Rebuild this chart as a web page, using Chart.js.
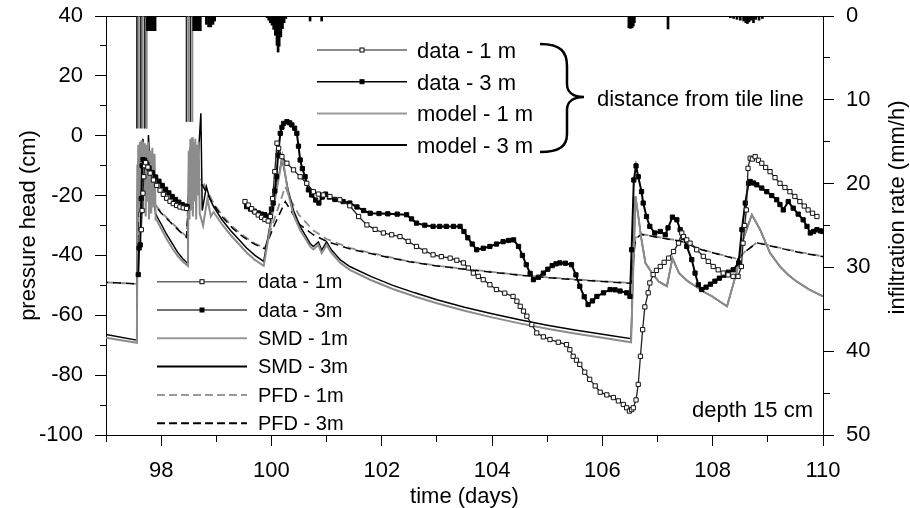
<!DOCTYPE html>
<html><head><meta charset="utf-8">
<script src="https://cdn.jsdelivr.net/npm/chart.js@4"></script>
<style>html,body{margin:0;padding:0;background:#fff}#wrap{width:910px;height:508px}</style>
</head><body><div id="wrap"><canvas id="c" width="910" height="508"></canvas></div>
<script>
// ---------- data ----------
const xTicksLabelled = [98, 100, 102, 104, 106, 108, 110];

const data1T = [97.64,97.655,97.67,97.685,97.70,97.72,97.76,97.80,97.86,97.92,97.98,98.04,98.10,98.16,98.22,98.28,98.34,98.40,98.46,99.0,
99.52,99.58,99.64,99.70,99.76,99.82,99.88,99.94,99.98,100.02,100.06,100.10,100.13,100.19,100.28,100.40,100.52,100.64,100.76,100.85,100.94,101.06,101.24,101.42,
101.58,101.73,101.88,102.03,102.18,102.33,102.48,102.63,102.78,102.93,103.08,103.24,103.36,103.48,103.57,103.66,103.75,103.84,103.96,104.08,104.23,104.38,104.45,104.51,104.57,104.63,104.72,104.81,104.93,105.05,105.20,105.35,105.41,105.47,105.53,105.59,105.68,105.77,105.87,105.96,106.08,106.20,106.29,106.38,106.44,106.49,
106.53,106.56,106.61,106.65,106.69,106.73,106.77,106.83,106.86,106.92,106.98,107.05,107.12,107.20,107.29,107.38,107.44,107.47,107.53,107.59,107.71,107.83,107.92,108.01,108.10,108.19,108.28,108.37,108.46,108.52,108.55,108.58,108.61,108.64,108.68,108.72,108.77,108.83,108.89,108.96,109.04,109.13,109.22,109.31,109.40,109.49,109.58,109.66,109.73,109.81,109.89];
const data1H = [-31.4,-25,-19.2,-13.7,-10,-9,-10.5,-12.5,-14.8,-16.6,-18.2,-19.6,-20.9,-21.9,-22.7,-23.3,-23.8,-24.1,-24.3,null,
-22,-23.2,-24.4,-25.5,-26.5,-27.3,-28,-28.5,-27,-21,-12,-2.5,-4.2,-7,-9.2,-11.4,-13.7,-15.9,-18.7,-19.5,-19.8,-20.3,-21.4,-23.4,
-27,-29.8,-31.3,-32.5,-33.1,-33.7,-35.3,-37,-38.5,-39.8,-40.4,-40.9,-41.6,-42.5,-44.2,-45.9,-47,-48.1,-49.8,-51.4,-52.6,-53.7,-55.3,-57,-58.6,-60.3,-63.1,-65.9,-67.2,-68.1,-69,-69.8,-71.5,-73.7,-75,-76.4,-79,-81.4,-83.6,-85.7,-86.6,-87.5,-88.6,-89.8,-90.9,-92,
-91.5,-90.9,-88.3,-83.1,-73.7,-64.8,-57.2,-52.5,-49.2,-46.4,-45,-43.7,-42.3,-40.9,-38.7,-35.9,-32.5,-33.7,-34.8,-35.9,-38.1,-40.3,-42,-43.7,-44.8,-45.9,-46.5,-47,-47,-43.7,-35.9,-30,-24.8,-10.9,-7.5,-7.8,-7,-8.2,-9.2,-10.6,-12,-14,-15.9,-17.3,-18.7,-20.3,-22,-23.5,-24.8,-25.9,-27];

const data3T = [97.585,97.60,97.62,97.64,97.655,97.67,97.70,97.74,97.78,97.84,97.90,97.96,98.02,98.08,98.14,98.20,98.26,98.32,98.38,98.44,98.47,99.0,
99.55,99.62,99.69,99.76,99.82,99.88,99.94,100.0,100.03,100.06,100.09,100.12,100.16,100.19,100.22,100.28,100.33,100.37,100.42,100.46,100.49,100.52,100.56,100.61,100.67,100.73,100.80,100.86,100.92,100.98,101.05,101.15,101.30,101.42,
101.55,101.67,101.79,101.95,102.11,102.28,102.45,102.54,102.63,102.78,102.93,103.05,103.17,103.30,103.42,103.49,103.56,103.64,103.72,103.84,103.96,104.08,104.20,104.30,104.39,104.48,104.55,104.62,104.69,104.75,104.84,104.93,105.01,105.09,105.16,105.23,105.33,105.44,105.52,105.59,105.67,105.74,105.82,105.90,106.02,106.14,106.23,106.32,106.44,106.50,
106.53,106.57,106.61,106.65,106.71,106.74,106.80,106.86,106.95,107.05,107.14,107.19,107.27,107.35,107.41,107.47,107.53,107.62,107.68,107.74,107.80,107.88,107.96,108.04,108.12,108.20,108.28,108.37,108.47,108.53,108.59,108.65,108.68,108.74,108.80,108.89,108.98,109.07,109.16,109.22,109.28,109.37,109.46,109.55,109.64,109.71,109.77,109.83,109.89,109.95,110.0];
const data3H = [-46.4,-37.5,-36.5,-21,-10,-8,-8.2,-9.5,-10.8,-12.3,-13.8,-15.2,-16.6,-17.9,-19.1,-20.3,-21.3,-22.2,-23.0,-23.5,-23.7,null,
-23.7,-24.5,-25.2,-25.8,-26.2,-26.4,-27,-24.5,-22.5,-18.5,-13.7,-6.5,0.8,2.8,4.1,4.7,4.3,3.6,2.5,0.8,-3.5,-8.1,-11,-13.7,-18.1,-19.8,-21.5,-22.5,-20.5,-19.5,-20.5,-21.3,-22,-22.5,
-23.8,-25,-25.9,-26,-26.1,-26.2,-26.4,-27.8,-29.2,-29.9,-30.3,-30.3,-30.3,-30.3,-30.3,-32,-34.1,-36.2,-38.1,-37.6,-37,-36.2,-35.4,-35,-34.8,-37,-40,-43.1,-46,-48.1,-47.3,-45.9,-44.6,-43.4,-42.8,-42.5,-42.6,-43.1,-46.5,-50.3,-53.8,-56.4,-55.2,-53.7,-52.5,-51.4,-51.5,-51.9,-52.5,-53.7,
-38.1,-14.8,-10.1,-13.7,-18.7,-22.5,-27,-30.3,-32.5,-32,-33.1,-30.8,-27.2,-28.1,-31.4,-34,-37,-41.4,-45.9,-49.8,-51.4,-50.6,-49.6,-48.6,-47.6,-46.6,-45.6,-44.8,-42.5,-31.4,-22.5,-15.9,-15.3,-15.8,-16.4,-17.5,-18.7,-20,-21.4,-23,-24.8,-22,-24.2,-26.2,-28.1,-30.3,-32.5,-32,-31.4,-31.8,-32];

const smd1T = [97.0,97.56,97.57,97.585,97.60,97.615,97.63,97.645,97.66,97.675,97.69,97.705,97.72,97.735,97.75,97.765,97.78,97.80,97.82,97.84,97.86,97.88,97.90,97.93,98.0,98.1,98.2,98.3,98.4,98.485,
98.50,98.515,98.53,98.545,98.56,98.575,98.59,98.605,98.62,98.635,98.65,98.665,98.68,98.70,98.76,98.84,98.90,98.95,99.1,99.25,99.4,99.55,99.7,99.86,100.02,100.2,100.3,100.4,100.52,100.62,100.70,100.76,100.85,100.91,101.0,101.09,101.25,101.42,
101.8,102.2,102.6,103.0,103.5,104.0,104.5,105.0,105.5,106.0,106.52,106.60,106.66,106.70,106.78,106.90,107.02,107.17,107.27,107.39,107.54,107.69,107.84,107.99,108.13,108.26,108.43,108.55,108.71,108.86,109.04,109.22,109.37,109.52,109.76,110.0];
const smd1H = [-67.5,-69.2,-30,-3,-25,-2,-20,-1.5,-26,-2,-18,-2.5,-27,-3,-22,-2,-28,-5,-26,-4,-24,-6,-28,-28.5,-31,-34.5,-37.5,-40.2,-42.2,-43.5,
-5,-28,-1,-25,-0.5,-27,-2,-22,-1,-28,-3,-20,-2,-26,-30,-21,-27,-25.5,-29.5,-33,-36,-39,-41.5,-43.5,-26,-7,-19,-26.5,-31.5,-34.5,-37,-38,-36.5,-39.2,-36.5,-39.2,-42.5,-44.8,
-48.2,-51.2,-53.7,-56,-58.5,-60.7,-62.7,-64.5,-66.1,-67.5,-69,-20.3,-28,-33.7,-42.5,-45.9,-48.7,-50.3,-40.9,-45.9,-48.5,-50.3,-52.2,-53.7,-55.4,-57,-45.9,-34.8,-26.4,-31.4,-39.2,-43.7,-46.5,-48.7,-51.5,-53.7];

const smd3T = [97.0,97.56,97.57,97.59,97.61,97.63,97.65,97.67,97.69,97.72,97.75,97.77,97.80,97.85,97.90,97.93,98.0,98.1,98.2,98.3,98.4,98.485,
98.50,98.53,98.56,98.60,98.64,98.68,98.72,98.745,98.82,98.88,98.95,99.1,99.25,99.4,99.55,99.7,99.86,100.02,100.19,100.3,100.4,100.52,100.62,100.70,100.76,100.85,100.91,101.0,101.09,101.25,101.42,
101.8,102.2,102.6,103.0,103.5,104.0,104.5,105.0,105.5,106.0,106.52,106.60,106.66,106.70,106.78,106.90,107.02,107.17,107.27,107.39,107.54,107.69,107.84,107.99,108.13,108.26,108.43,108.55,108.71,108.86,109.04,109.22,109.37,109.52,109.76,110.0];
const smd3H = [-66.4,-68.3,-10,-8,-20,-6,-15,-1,-12,-8,-14,0.2,-12,-18,-26,-27.2,-29.5,-33,-36,-39,-41.3,-42.7,
-10,-4,-15,-3,-14,-5,7.5,-25,-17,-21,-23.7,-28,-31.5,-34.5,-37.5,-40,-42,-25,-7.5,-18,-25,-30.3,-33.5,-36,-37,-35.5,-38.2,-35.5,-38.2,-41.5,-43.7,
-47,-50,-52.5,-54.8,-57.3,-59.5,-61.5,-63.3,-64.9,-66.3,-67.8,-20.3,-28,-33.7,-42.5,-45.9,-48.7,-50.3,-40.9,-45.9,-48.5,-50.3,-52.2,-53.7,-55.4,-57,-45.9,-34.8,-26.4,-31.4,-39.2,-43.7,-46.5,-48.7,-51.5,-53.7];

const pfd1T = [97.0,97.565,97.60,97.70,97.80,97.87,98.0,98.15,98.3,98.46,98.50,98.60,98.75,98.85,98.95,99.1,99.3,99.5,99.7,99.88,100.05,100.25,100.35,100.5,100.75,101.0,101.42,102.0,102.5,103.0,103.5,104.0,104.5,105.0,105.5,106.0,106.52,106.60,106.70,106.90,107.2,107.4,107.8,108.1,108.45,108.6,108.8,109.0,109.3,109.6,110.0];
const pfd1H = [-49,-49.5,-14,-17,-20.5,-22.5,-25.5,-28.3,-31,-33.7,-18,-14,-15,-19,-22.5,-26.5,-30.5,-33.5,-36,-37.5,-28,-17,-21.5,-26.5,-31.5,-34.5,-37.5,-40,-42,-43.4,-44.5,-45.5,-46.5,-47.3,-48,-48.6,-49.2,-34,-32.8,-33.5,-34.5,-35,-38,-39.5,-41.2,-38.5,-35.7,-36.5,-37.8,-39,-40.3];

const pfd3T = [97.0,97.565,97.60,97.70,97.80,97.87,98.0,98.15,98.3,98.46,98.50,98.60,98.75,98.85,98.95,99.1,99.3,99.5,99.7,99.88,100.05,100.25,100.35,100.5,100.75,101.0,101.42,102.0,102.5,103.0,103.5,104.0,104.5,105.0,105.5,106.0,106.52,106.60,106.70,106.90,107.2,107.4,107.8,108.1,108.45,108.6,108.8,109.0,109.3,109.6,110.0];
const pfd3H = [-49,-49.5,-16,-18.5,-21,-22.8,-25.8,-28.6,-31.3,-34,-20,-15.5,-16.5,-20,-23,-27,-31,-34,-36.3,-37.8,-30,-22,-25,-29.5,-33,-35.3,-37.8,-40.2,-42.1,-43.5,-44.6,-45.6,-46.6,-47.4,-48.1,-48.7,-49.3,-34.5,-33,-33.6,-34.6,-35.1,-38.1,-39.6,-41.3,-38.6,-35.8,-36.6,-37.9,-39.1,-40.4];

// infiltration rate (mm/h), hanging from the top axis
const infilT = [97.56,97.596,97.632,97.668,97.704,97.74,
97.75,97.77,97.79,97.81,97.83,97.85,97.87,97.89,
98.46,98.496,98.532,98.568,
98.59,98.61,98.63,98.65,98.67,98.69,98.71,
98.82,98.86,98.90,98.94,98.97,
99.92,99.95,99.98,100.01,100.04,100.07,100.10,100.12,100.14,100.17,100.20,100.23,100.26,
100.70,100.91,
106.48,106.50,106.52,106.54,106.56,106.58,
107.19,
108.32,108.38,108.44,108.50,108.56,108.60,108.63,108.66,108.70,108.74,108.78,108.84,108.90];
const infilR = [13.4,13.4,13.4,13.4,13.4,13.4,
1.75,1.75,1.75,1.75,1.75,1.75,1.75,1.75,
12.6,12.6,12.6,12.6,
1.75,1.75,1.75,1.75,1.75,1.75,1.75,
1.0,1.3,1.3,1.0,0.6,
0.2,0.5,0.8,1.1,1.6,2.3,3.5,4.3,3.6,2.5,1.5,0.8,0.3,
0.6,0.6,
1.4,1.45,1.45,1.4,1.2,0.8,
1.55,
0.2,0.3,0.4,0.5,0.6,0.8,0.9,0.7,0.5,0.8,0.4,0.5,0.3];

// ---------- chart ----------
const FONT = '"Liberation Sans", Arial, Helvetica, sans-serif';
Chart.defaults.font.family = FONT;
Chart.defaults.font.size = 22;
Chart.defaults.color = '#000';

const pts = (T, H) => T.map((t, i) => ({x: t, y: H[i]}));
const infil = pts(infilT, infilR);

function line(label, T, H, o) {
  return Object.assign({type: 'line', label, data: pts(T, H), xAxisID: 'x', yAxisID: 'y',
    pointRadius: 0, borderWidth: 1.5, tension: 0, spanGaps: false, fill: false}, o);
}

const GRAY = '#8c8c8c';

const datasets = [
  line('data - 1m', data1T, data1H, {order: 1, borderColor: '#222', borderWidth: 1.3,
    pointRadius: 3, pointStyle: 'rect', pointBackgroundColor: '#fff', pointBorderColor: '#111', pointBorderWidth: 1}),
  line('data - 3m', data3T, data3H, {order: 2, borderColor: '#000', borderWidth: 2,
    pointRadius: 3, pointStyle: 'rect', pointBackgroundColor: '#000', pointBorderColor: '#000', pointBorderWidth: 1}),
  line('SMD - 1m', smd1T, smd1H, {order: 3, borderColor: GRAY, borderWidth: 2}),
  line('SMD - 3m', smd3T, smd3H, {order: 4, borderColor: '#000', borderWidth: 1.5}),
  line('PFD - 3m', pfd3T, pfd3H, {order: 5, borderColor: '#000', borderWidth: 1.5, borderDash: [8, 5], borderDashOffset: 6}),
  line('PFD - 1m', pfd1T, pfd1H, {order: 6, borderColor: GRAY, borderWidth: 1.8, borderDash: [8, 5]}),
  {type: 'bar', label: 'infiltration', data: infil.filter(p => p.y <= 5), xAxisID: 'x', yAxisID: 'yR',
    barThickness: 2, backgroundColor: '#000', borderWidth: 0, grouped: false, order: 7},
  {type: 'bar', label: 'infiltration ', data: infil.filter(p => p.y > 5), xAxisID: 'x', yAxisID: 'yR',
    barThickness: 1, backgroundColor: ctx => (ctx.dataIndex % 2 ? '#8a8a8a' : '#222'), borderWidth: 0, grouped: false, order: 8}
];

const tickGrid = (isMajor, outerFirst) => ({
  drawOnChartArea: false, drawTicks: true, tickLength: 11, tickColor: '#000', tickWidth: 1,
  tickBorderDash: ctx => (ctx.tick && isMajor(ctx.tick.value)) ? [] : (outerFirst ? [0, 5, 6, 100] : [6, 100])
});
const border = {display: true, color: '#000', width: 1};
const fixV = w => s => { s.width = w; s.paddingTop = 0; s.paddingBottom = 0; };

// ---------- annotations (legends, brace, labels) ----------
const upRows = [
  {t: 'data - 1 m', c: '#666', w: 1.5, m: 'open'},
  {t: 'data - 3 m', c: '#000', w: 1.5, m: 'fill'},
  {t: 'model - 1 m', c: '#999', w: 2},
  {t: 'model - 3 m', c: '#000', w: 2}
];
const lowRows = [
  {t: 'data - 1m', c: '#666', w: 1.5, m: 'open'},
  {t: 'data - 3m', c: '#444', w: 1.5, m: 'fill'},
  {t: 'SMD - 1m', c: '#999', w: 2},
  {t: 'SMD - 3m', c: '#000', w: 2},
  {t: 'PFD - 1m', c: '#999', w: 2, d: [8, 4]},
  {t: 'PFD - 3m', c: '#000', w: 2, d: [8, 4]}
];

function drawRows(c, rows, x0, x1, y0, dy, tx, tdy, size) {
  c.font = size + 'px ' + FONT;
  c.textAlign = 'left';
  c.textBaseline = 'alphabetic';
  rows.forEach((r, i) => {
    const y = y0 + i * dy;
    c.beginPath();
    c.setLineDash(r.d || []);
    c.strokeStyle = r.c; c.lineWidth = r.w;
    c.moveTo(x0, y); c.lineTo(x1, y); c.stroke();
    c.setLineDash([]);
    if (r.m) {
      const mx = (x0 + x1) / 2;
      c.fillStyle = r.m === 'open' ? '#fff' : '#000';
      c.fillRect(mx - 2, y - 2, 4, 4);
      c.lineWidth = 1; c.strokeStyle = '#000';
      c.strokeRect(mx - 2, y - 2, 4, 4);
    }
    c.fillStyle = '#000';
    c.fillText(r.t, tx, y + tdy);
  });
}

const annot = {
  id: 'annot',
  afterDatasetsDraw(chart) {
    const c = chart.ctx;
    c.save();
    drawRows(c, upRows, 317, 407, 50, 31.7, 417, 8, 22);
    drawRows(c, lowRows, 157, 247, 281.7, 28.3, 258, 6.6, 20);
    // brace
    c.beginPath();
    c.strokeStyle = '#000'; c.lineWidth = 2.5; c.setLineDash([]);
    c.moveTo(540, 44);
    c.bezierCurveTo(561, 44, 567, 52, 567, 66);
    c.lineTo(567, 84);
    c.bezierCurveTo(567, 92, 573, 97, 584, 97);
    c.bezierCurveTo(573, 97, 567, 102, 567, 110);
    c.lineTo(567, 134);
    c.bezierCurveTo(567, 146, 560, 152, 540, 152);
    c.stroke();
    c.fillStyle = '#000';
    c.font = '22px ' + FONT;
    c.textAlign = 'left'; c.textBaseline = 'alphabetic';
    c.fillText('distance from tile line', 597, 105.5);
    c.textAlign = 'right';
    c.fillText('depth 15 cm', 813, 416.5);
    // right axis title (reads bottom to top)
    c.translate(898, 207.5);
    c.rotate(-Math.PI / 2);
    c.textAlign = 'center'; c.textBaseline = 'middle';
    c.fillText('infiltration rate (mm/h)', 0, 0);
    c.restore();
  }
};

new Chart(document.getElementById('c'), {
  type: 'line',
  data: {datasets},
  plugins: [annot],
  options: {
    responsive: false, animation: false, events: [],
    layout: {padding: {top: 16, left: 0, right: 0, bottom: 0}},
    plugins: {legend: {display: false}, tooltip: {enabled: false}},
    scales: {
      x: {type: 'linear', axis: 'x', position: 'bottom', min: 97, max: 110, offset: false,
        ticks: {stepSize: 1, autoSkip: false, maxRotation: 0, padding: 12,
          callback: v => xTicksLabelled.includes(v) ? String(v) : ''},
        grid: Object.assign(tickGrid(v => xTicksLabelled.includes(v), false), {offset: false}),
        border,
        title: {display: true, text: 'time (days)', padding: {top: 0, bottom: -2}},
        afterFit: s => { s.height = 73; }},
      x2: {type: 'linear', axis: 'x', position: 'top', min: 97, max: 110,
        ticks: {display: false}, grid: {display: false, drawTicks: false}, border,
        afterFit: s => { s.height = 0; }},
      y: {type: 'linear', axis: 'y', position: 'left', min: -100, max: 40,
        ticks: {stepSize: 10, autoSkip: false, padding: 12,
          callback: v => (v % 20 === 0 ? String(v) : '')},
        grid: tickGrid(v => v % 20 === 0, true), border,
        title: {display: true, text: 'pressure head (cm)', padding: {top: 16, bottom: 0}},
        afterFit: fixV(106)},
      yR: {type: 'linear', axis: 'y', position: 'right', min: 0, max: 50, reverse: true,
        ticks: {stepSize: 5, autoSkip: false, padding: 12,
          callback: v => (v % 10 === 0 ? String(v) : '')},
        grid: tickGrid(v => v % 10 === 0, false), border,
        afterFit: fixV(87)}
    }
  }
});
</script></body></html>
